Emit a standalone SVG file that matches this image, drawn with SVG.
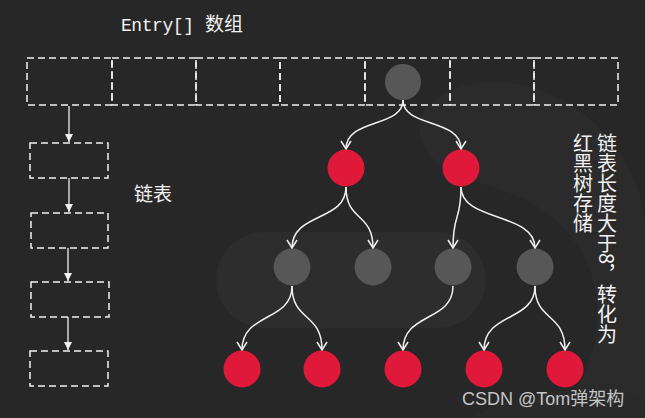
<svg xmlns="http://www.w3.org/2000/svg" width="645" height="418" viewBox="0 0 645 418">
<defs>
<style>
.cell{fill:none;stroke:#f2f2f2;stroke-width:1.5;stroke-dasharray:7 4}
.red{fill:#e0193a}
.gray{fill:#575757}
.edge{fill:none;stroke:#f0f0f0;stroke-width:1.5;marker-end:url(#chev)}
.link{fill:none;stroke:#f0f0f0;stroke-width:1.3;marker-end:url(#tri)}
.lbl{fill:#f2f2f2;font-family:"Noto Sans CJK SC","Noto Sans",sans-serif}
</style>
<marker id="chev" viewBox="0 0 10 12" refX="9" refY="6" markerWidth="10" markerHeight="12" markerUnits="userSpaceOnUse" orient="auto">
<path d="M1,1 L9,6 L1,11" fill="none" stroke="#f0f0f0" stroke-width="1.5"/>
</marker>
<marker id="tri" viewBox="0 0 8 8" refX="8" refY="4" markerWidth="8" markerHeight="8" markerUnits="userSpaceOnUse" orient="auto">
<path d="M0,0 L8,4 L0,8 Z" fill="#f0f0f0"/>
</marker>
</defs>
<rect width="645" height="418" fill="#272727"/>
<!-- faint background decoration -->
<path d="M420,120 C430,90 480,70 540,90 C600,110 640,170 645,220 L645,418 L560,418 C600,360 610,300 580,250 C550,200 500,190 470,180 C440,170 415,150 420,120 Z" fill="#2b2b2b"/>
<rect x="216" y="232" width="270" height="96" rx="48" fill="#2d2d2d"/>
<path d="M470,418 C520,390 600,380 645,400 L645,418 Z" fill="#2a2a2a"/>

<text class="lbl" x="121" y="31" font-size="18"><tspan font-family="'Liberation Mono','DejaVu Sans Mono',monospace" textLength="73">Entry[]</tspan><tspan x="205" font-size="19">数组</tspan></text>

<g id="array">
<rect id="cell1" class="cell" x="27" y="58" width="85" height="47"/>
<rect id="cell2" class="cell" x="112" y="58" width="84" height="47"/>
<rect id="cell3" class="cell" x="196" y="58" width="84" height="47"/>
<rect id="cell4" class="cell" x="280" y="58" width="85" height="47"/>
<rect id="cell5" class="cell" x="365" y="58" width="85" height="47"/>
<rect id="cell6" class="cell" x="450" y="58" width="84" height="47"/>
<rect id="cell7" class="cell" x="534" y="58" width="84" height="47"/>
</g>

<g id="list1"><rect class="cell" x="30" y="143" width="78" height="35"/></g>
<g id="list2"><rect class="cell" x="31" y="213" width="77" height="35"/></g>
<g id="list3"><rect class="cell" x="31" y="282" width="78" height="35"/></g>
<g id="list4"><rect class="cell" x="30" y="351" width="78" height="35"/></g>

<g id="root"><circle class="gray" cx="403" cy="82" r="18"/></g>
<g id="r1"><circle class="red" cx="346" cy="168" r="18.5"/></g>
<g id="r2"><circle class="red" cx="461" cy="168" r="18.5"/></g>
<g id="g1"><circle class="gray" cx="292" cy="267" r="18.5"/></g>
<g id="g2"><circle class="gray" cx="373" cy="267" r="18.5"/></g>
<g id="g3"><circle class="gray" cx="453" cy="267" r="18.5"/></g>
<g id="g4"><circle class="gray" cx="535" cy="267" r="18.5"/></g>
<g id="l1"><circle class="red" cx="242" cy="369" r="18.5"/></g>
<g id="l2"><circle class="red" cx="322" cy="369" r="18.5"/></g>
<g id="l3"><circle class="red" cx="403" cy="369" r="18.5"/></g>
<g id="l4"><circle class="red" cx="484" cy="369" r="18.5"/></g>
<g id="l5"><circle class="red" cx="565" cy="369" r="18.5"/></g>

<g id="connectors">
<path class="link" d="M69,106 V142"/>
<path class="link" d="M69,178 V212"/>
<path class="link" d="M68,248 V281"/>
<path class="link" d="M68,317 V350"/>
<path class="edge" d="M403,100 C403,128 346,118 346,149"/>
<path class="edge" d="M403,100 C403,128 461,118 461,149"/>
<path class="edge" d="M346,187 C346,222 292,212 292,248"/>
<path class="edge" d="M346,187 C346,222 373,212 373,248"/>
<path class="edge" d="M461,187 C461,222 453,212 453,248"/>
<path class="edge" d="M461,187 C461,222 535,212 535,248"/>
<path class="edge" d="M292,286 C292,322 242,312 242,350"/>
<path class="edge" d="M292,286 C292,322 322,312 322,350"/>
<path class="edge" d="M453,286 C453,322 403,312 403,350"/>
<path class="edge" d="M535,286 C535,322 484,312 484,350"/>
<path class="edge" d="M535,286 C535,322 565,312 565,350"/>
</g>

<text class="lbl" x="134" y="201" font-size="19">链表</text>
<text class="lbl" x="607" y="133" font-size="20" style="writing-mode:vertical-rl">链表长度大于8，转化为</text>
<text class="lbl" x="583" y="133" font-size="20" style="writing-mode:vertical-rl">红黑树存储</text>
<text x="462" y="405" font-size="18" fill="#c4c4c4" font-family="'Liberation Sans','Noto Sans CJK SC',sans-serif">CSDN @Tom弹架构</text>
</svg>
